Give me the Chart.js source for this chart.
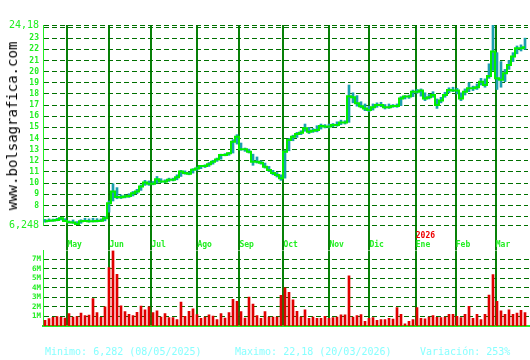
<!DOCTYPE html>
<html>
<head>
<meta charset="utf-8">
<script src="https://cdn.jsdelivr.net/npm/chart.js@4.4.1/dist/chart.umd.min.js"></script>
<style>
  html, body { margin: 0; padding: 0; background: #fff; }
  #wrap { position: relative; width: 530px; height: 360px; overflow: hidden; background: #fff; }
  #wrap canvas { position: absolute; left: 0; top: 0; }
  .site { position: absolute; left: 12px; top: 126px; transform: translate(-50%, -50%) rotate(-90deg);
          font: 14px "DejaVu Sans Mono", monospace; color: #000; white-space: nowrap; }
  .foot { position: absolute; top: 346px; font: 10px "DejaVu Sans Mono", monospace; color: #8ff; white-space: nowrap; line-height: 12px; }
</style>
</head>
<body>
<div id="wrap">
  <canvas id="price" width="530" height="360"></canvas>
  <canvas id="vol" width="530" height="360"></canvas>
  <div class="site">www.bolsagrafica.com</div>
  <div class="foot" style="left:45px">Minimo: 6,282 (08/05/2025)</div>
  <div class="foot" style="left:235px">Maximo: 22,18 (20/03/2026)</div>
  <div class="foot" style="left:420px">Variación: 253%</div>
</div>
<script>
// sesiones (cada punto ~2 sesiones), de mediados de abril 2025 a marzo 2026
const closes = [
  6.58, 6.64, 6.66, 6.70, 6.85, 6.61, 6.50, 6.48, 6.34, 6.58,
  6.61, 6.58, 6.58, 6.60, 6.64, 6.85, 8.20, 9.25, 8.75, 8.73,
  8.80, 8.85, 9.10, 9.25, 9.70, 10.06, 9.94, 9.94, 10.36, 10.15,
  10.15, 10.30, 10.30, 10.54, 11.05, 10.90, 10.84, 11.20, 11.32, 11.53,
  11.53, 11.70, 11.92, 12.13, 12.52, 12.52, 12.67, 13.72, 14.17, 13.03,
  13.03, 12.82, 11.92, 11.92, 11.83, 11.47, 11.17, 10.90, 10.72, 10.43,
  12.82, 13.87, 14.17, 14.40, 14.53, 14.92, 14.62, 14.70, 14.77, 15.13,
  15.07, 15.07, 15.22, 15.22, 15.43, 15.43, 17.80, 17.70, 17.16, 16.90,
  16.70, 16.56, 16.80, 17.00, 17.00, 16.80, 16.80, 16.92, 16.92, 17.60,
  17.76, 17.76, 18.20, 18.20, 18.30, 17.60, 17.70, 17.90, 17.00, 17.40,
  17.90, 18.36, 18.30, 18.30, 17.60, 18.20, 18.50, 18.50, 18.60, 19.10,
  18.80, 19.60, 21.80, 19.40, 19.26, 19.85, 20.60, 21.35, 22.10, 22.10,
  22.18
];
const highs = [
  6.75, 6.80, 6.78, 6.85, 6.92, 6.82, 6.62, 6.70, 6.55, 6.72,
  6.85, 6.80, 6.85, 6.82, 6.80, 7.00, 8.40, 9.95, 9.60, 8.95,
  8.95, 9.05, 9.25, 9.45, 9.85, 10.25, 10.20, 10.15, 10.60, 10.40,
  10.30, 10.45, 10.45, 10.75, 11.15, 11.10, 11.00, 11.30, 11.45, 11.60,
  11.65, 11.85, 12.05, 12.25, 12.60, 12.65, 12.75, 13.90, 14.35, 13.60,
  13.15, 13.05, 12.60, 12.35, 12.00, 11.80, 11.50, 11.15, 10.95, 10.75,
  12.95, 14.00, 14.30, 14.55, 14.70, 15.30, 15.00, 14.90, 15.15, 15.30,
  15.25, 15.30, 15.35, 15.50, 15.65, 15.60, 18.80, 18.10, 17.85, 17.30,
  17.10, 16.90, 17.10, 17.20, 17.25, 17.05, 17.10, 17.05, 17.10, 17.75,
  17.85, 17.90, 18.35, 18.40, 18.45, 18.10, 17.95, 18.20, 17.55, 17.70,
  18.15, 18.55, 18.60, 18.50, 18.10, 18.45, 19.00, 18.70, 18.90, 19.40,
  19.35, 20.70, 24.18, 21.70, 20.90, 20.20, 21.00, 21.70, 22.30, 22.40,
  23.00
];
const lows = [
  6.50, 6.55, 6.58, 6.62, 6.70, 6.55, 6.42, 6.40, 6.28, 6.40,
  6.55, 6.50, 6.52, 6.52, 6.55, 6.62, 7.40, 8.40, 8.60, 8.62,
  8.68, 8.72, 8.85, 9.05, 9.35, 9.80, 9.80, 9.85, 10.00, 10.05,
  10.05, 10.15, 10.20, 10.30, 10.60, 10.80, 10.75, 10.90, 11.15, 11.30,
  11.40, 11.50, 11.70, 11.95, 12.15, 12.45, 12.50, 12.70, 13.50, 12.95,
  12.85, 12.70, 11.60, 11.80, 11.70, 11.35, 11.05, 10.75, 10.55, 10.25,
  10.45, 12.90, 13.80, 14.10, 14.35, 14.65, 14.45, 14.55, 14.60, 14.85,
  14.95, 14.95, 15.05, 15.10, 15.25, 15.30, 15.45, 17.20, 16.90, 16.75,
  16.50, 16.40, 16.55, 16.80, 16.85, 16.65, 16.70, 16.80, 16.80, 16.95,
  17.55, 17.60, 17.75, 18.05, 17.80, 17.40, 17.55, 17.70, 16.70, 17.20,
  17.70, 18.10, 18.20, 18.00, 17.40, 17.90, 18.20, 18.30, 18.40, 18.80,
  18.60, 19.40, 20.10, 18.40, 18.60, 19.10, 20.20, 20.90, 21.60, 21.85,
  22.00
];
// volumen en millones
const volumes = [
  0.59, 0.77, 0.91, 0.98, 0.91, 0.84, 1.30, 0.94, 0.98, 1.36,
  1.08, 1.15, 2.86, 1.40, 0.91, 2.00, 6.10, 7.90, 5.40, 2.10,
  1.50, 1.22, 1.08, 1.43, 2.09, 1.70, 2.00, 1.40, 1.60, 0.94,
  1.29, 0.87, 0.87, 0.66, 2.50, 1.00, 1.53, 1.80, 1.20, 0.80,
  0.94, 1.18, 1.05, 0.66, 1.30, 0.84, 1.40, 2.80, 2.58, 1.50,
  0.84, 3.03, 2.30, 1.08, 0.80, 1.50, 0.94, 0.94, 0.94, 3.20,
  4.00, 3.52, 2.75, 1.53, 0.94, 1.70, 0.80, 0.94, 0.80, 0.80,
  1.00, 0.80, 0.87, 0.94, 1.18, 1.18, 5.26, 0.94, 1.08, 1.20,
  0.50, 0.80, 0.87, 0.60, 0.66, 0.66, 0.80, 0.73, 1.92, 1.22,
  0.24, 0.50, 0.66, 1.92, 0.80, 0.75, 0.94, 1.10, 0.90, 0.87,
  0.94, 1.22, 1.22, 1.00, 0.87, 1.22, 2.05, 0.80, 1.22, 0.66,
  1.22, 3.24, 5.37, 2.58, 1.60, 1.22, 1.70, 1.22, 1.36, 1.64,
  1.40
];
const monthPos = [5.6, 16.1, 26.6, 38.1, 48.6, 59.6, 71.1, 81.1, 92.7, 102.7, 112.7];
const monthLabels = ['May', 'Jun', 'Jul', 'Ago', 'Sep', 'Oct', 'Nov', 'Dic', 'Ene', 'Feb', 'Mar'];
const yearPos = [92.7];
const yearLabels = ['2026'];
const priceTicks = [6.248, 7, 8, 9, 10, 11, 12, 13, 14, 15, 16, 17, 18, 19, 20, 21, 22, 23, 24, 24.18];
const priceTickLabels = ['6,248', '', '8', '9', '10', '11', '12', '13', '14', '15', '16', '17', '18', '19', '20', '21', '22', '23', '', '24,18'];
const volTicks = [1, 2, 3, 4, 5, 6, 7];
const volTickLabels = ['1M', '2M', '3M', '4M', '5M', '6M', '7M'];

const MONO = '"DejaVu Sans Mono", monospace';
const LIME = '#22ee22';
const DASH = '#007000';
const VLINE = '#088008';

const ticksAt = arr => s => { s.ticks = arr.map(v => ({ value: v })); };

// —— precio —— //
new Chart(document.getElementById('price'), {
  type: 'bar',
  data: {
    datasets: [
      { type: 'line', data: closes.map((c, i) => ({ x: i, y: c })), borderColor: '#00f000', borderWidth: 2,
        pointRadius: 0, stepped: 'middle', order: 0 },
      { type: 'bar', data: closes.map((c, i) => ({ x: i, y: [lows[i], highs[i]] })), backgroundColor: '#1b9fae',
        barThickness: 2, grouped: false, order: 1 }
    ]
  },
  options: {
    responsive: false, animation: false, devicePixelRatio: 1,
    layout: { padding: { top: 25, right: 2, bottom: 110, left: 0 } },
    plugins: { legend: { display: false }, tooltip: { enabled: false } },
    scales: {
      x: {
        type: 'linear', min: -0.5, max: 120.75, offset: false,
        afterBuildTicks: ticksAt(monthPos), afterFit: s => { s.height = 25; },
        grid: { offset: false, color: VLINE, lineWidth: 2, drawTicks: true, tickLength: 25 },
        border: { display: false },
        ticks: { align: 'start', padding: -10, color: LIME, maxRotation: 0, autoSkip: false,
                 font: { family: MONO, size: 8, weight: 'bold' }, callback: (v, i) => monthLabels[i] }
      },
      y: {
        min: 6.248, max: 24.18,
        afterBuildTicks: ticksAt(priceTicks), afterFit: s => { s.width = 43; },
        grid: { color: DASH, lineWidth: 1, drawTicks: false },
        border: { display: true, color: LIME, width: 1, dash: [5, 3] },
        ticks: { padding: 4, color: LIME, autoSkip: false, callback: (v, i) => priceTickLabels[i],
                 font: c => (c.index === 0 || c.index === priceTicks.length - 1)
                   ? { family: MONO, size: 10 } : { family: MONO, size: 8, weight: 'bold' } }
      }
    }
  }
});

// —— volumen —— //
new Chart(document.getElementById('vol'), {
  type: 'bar',
  data: {
    datasets: [{ data: volumes.map((v, i) => ({ x: i, y: v })), backgroundColor: '#e00000', barThickness: 2 }]
  },
  options: {
    responsive: false, animation: false, devicePixelRatio: 1,
    layout: { padding: { top: 228.5, right: 0, bottom: 34, left: 0 } },
    plugins: { legend: { display: false }, tooltip: { enabled: false } },
    scales: {
      x: {
        type: 'linear', min: -0.5, max: 121.25, offset: false,
        afterBuildTicks: ticksAt(monthPos), afterFit: s => { s.height = 0; },
        grid: { offset: false, color: VLINE, lineWidth: 2, drawTicks: false },
        border: { display: true, color: LIME, width: 2 },
        ticks: { display: false }
      },
      xTop: {
        axis: 'x', type: 'linear', position: 'top', min: -0.5, max: 121.25, offset: false,
        afterBuildTicks: ticksAt(yearPos), afterFit: s => { s.height = 22; },
        grid: { display: false, drawTicks: false, offset: false },
        border: { display: false },
        ticks: { align: 'start', padding: 10, color: '#ee0000', maxRotation: 0, autoSkip: false,
                 font: { family: MONO, size: 8, weight: 'bold' }, callback: (v, i) => yearLabels[i] }
      },
      y: {
        min: 0, max: 7.9,
        afterBuildTicks: ticksAt(volTicks), afterFit: s => { s.width = 43; },
        grid: { color: DASH, lineWidth: 1, drawTicks: false },
        border: { display: true, color: LIME, width: 1, dash: [5, 3] },
        ticks: { padding: 2, color: LIME, autoSkip: false, callback: (v, i) => volTickLabels[i],
                 font: { family: MONO, size: 7.5, weight: 'bold' } }
      }
    }
  }
});
</script>
</body>
</html>
